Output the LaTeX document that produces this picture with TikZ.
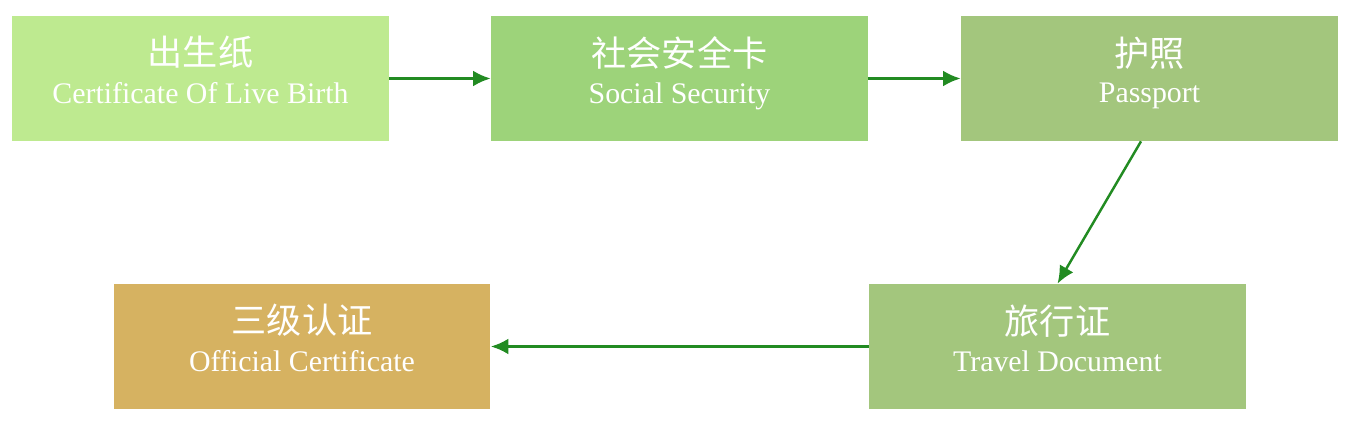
\documentclass[tikz,border=0pt]{standalone}
\usepackage{fontspec}
\setmainfont{Liberation Serif}
\newfontfamily\cjk{Noto Sans CJK SC}
\usepackage{tikz}
\usetikzlibrary{arrows.meta,positioning,calc}
\definecolor{birthgreen}{HTML}{BEEA90}
\definecolor{socialgreen}{HTML}{9DD37A}
\definecolor{passgreen}{HTML}{A3C67D}
\definecolor{officialgold}{HTML}{D6B261}
\definecolor{arrowgreen}{HTML}{228B22}
\newcommand{\doclabel}[2]{\raisebox{3pt}[\height][\depth]{\begin{tabular}{@{}c@{}}{\cjk\fontsize{20}{22}\selectfont #1}\\[6pt]{\fontsize{17}{19}\selectfont #2}\end{tabular}}}

\begin{document}
\begin{tikzpicture}[x=0.02cm,y=-0.02cm,
  docbox/.style={rectangle, minimum width=7.54cm, minimum height=2.5cm, inner sep=0pt, text=white},
  flow/.style={-{Latex[length=10pt,width=9pt]}, line width=1.4pt, arrowgreen}]
\useasboundingbox (0,0) rectangle (1352,428);
\node[docbox, fill=birthgreen] (birth) at (200.5,78.5) {\doclabel{出生纸}{Certificate Of Live Birth}};
\node[docbox, fill=socialgreen] (social) at (679.5,78.5) {\doclabel{社会安全卡}{Social Security}};
\node[docbox, fill=passgreen] (passport) at (1149.5,78.5) {\doclabel{护照}{Passport}};
\node[docbox, fill=passgreen] (travel) at (1057.5,346.5) {\doclabel{旅行证}{Travel Document}};
\node[docbox, fill=officialgold] (official) at (302,346.5) {\doclabel{三级认证}{Official Certificate}};
% flow between documents
\draw[flow] (birth) -- (social);
\draw[flow] (social) -- (passport);
\draw[flow] ([xshift=-0.17cm]passport.south) -- (travel.north);
\draw[flow] (travel) -- (official);
\end{tikzpicture}
\end{document}
